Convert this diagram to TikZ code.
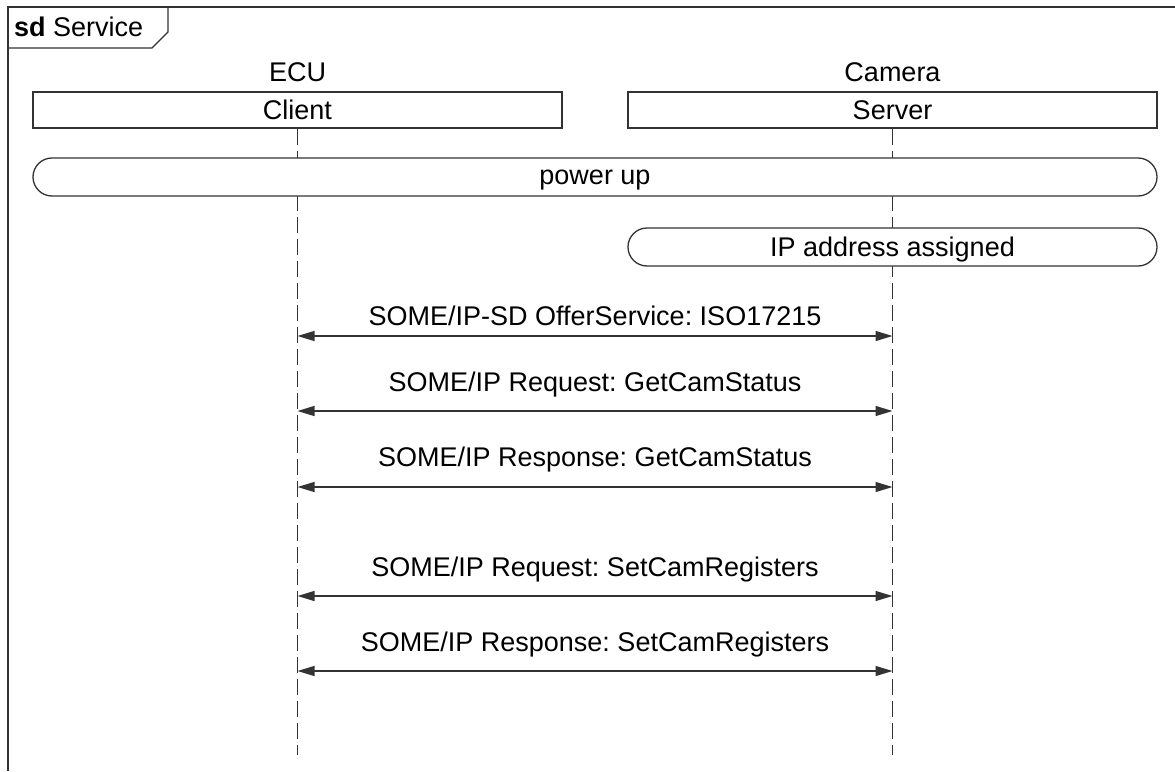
\documentclass[tikz,border=0pt]{standalone}
\usepackage{fontspec}
\setmainfont{Liberation Sans}
\usetikzlibrary{arrows.meta, positioning, shapes.misc}
\definecolor{umlline}{HTML}{333333}
\frenchspacing

\begin{document}
\begin{tikzpicture}[
    x=1pt, y=-1pt,
    font=\fontsize{27}{31}\selectfont,
    rolebox/.style={
        rectangle,
        draw=umlline,
        line width=1.5pt,
        fill=white,
        minimum width=529pt,
        minimum height=36pt,
        text depth=0pt,
        inner sep=0pt
    },
    statebar/.style={
        rounded rectangle,
        draw=umlline,
        line width=1.3pt,
        fill=white,
        minimum height=38pt,
        text depth=0pt,
        inner sep=0pt
    },
    lifeline/.style={umlline, line width=1.5pt, dash pattern=on 16pt off 6pt},
    msg/.style={{Triangle[length=17pt,width=10pt]}-{Triangle[length=17pt,width=10pt]}, umlline, line width=1.3pt},
    msglabel/.style={inner sep=0pt}
]
\useasboundingbox (0,0) rectangle (1175,771);

% frame with tab
\draw[umlline, line width=1.3pt] (8,771) -- (8,7) -- (1175,7);
\draw[umlline, line width=1.3pt] (8,48) -- (152,48) -- (168,32) -- (168,7);
\node[anchor=west, inner sep=0pt] (frametitle) at (14,27) {\textbf{sd} Service};

% participants
\node[rolebox] (client) at (297.5,110) {Client};
\node[rolebox] (server) at (892.5,110) {Server};
\node[inner sep=0pt, above=9pt of client] (ecu) {ECU};
\node[inner sep=0pt, above=9pt of server] (camera) {Camera};

% lifelines
\coordinate (lifeend) at (0,755);
\draw[lifeline] (client.south) -- (client.south |- lifeend);
\draw[lifeline] (server.south) -- (server.south |- lifeend);

% states
\node[statebar, minimum width=1124pt] (powerup) at (595,177) {power up};
\node[statebar, minimum width=529pt] (ipaddr) at (892.5,247) {IP address assigned};

% messages
\node[msglabel] (offer) at (595,316) {SOME/IP-SD OfferService: ISO17215};
\node[msglabel] (getreq) at (595,385) {SOME/IP Request: GetCamStatus};
\node[msglabel] (getresp) at (595,460) {SOME/IP Response: GetCamStatus};
\node[msglabel] (setreq) at (595,570) {SOME/IP Request: SetCamRegisters};
\node[msglabel] (setresp) at (595,645) {SOME/IP Response: SetCamRegisters};

\coordinate (a1) at (0,336);
\coordinate (a2) at (0,411);
\coordinate (a3) at (0,487);
\coordinate (a4) at (0,596);
\coordinate (a5) at (0,671);

\draw[msg] (client |- a1) -- (server |- a1);
\draw[msg] (client |- a2) -- (server |- a2);
\draw[msg] (client |- a3) -- (server |- a3);
\draw[msg] (client |- a4) -- (server |- a4);
\draw[msg] (client |- a5) -- (server |- a5);

\end{tikzpicture}
\end{document}
